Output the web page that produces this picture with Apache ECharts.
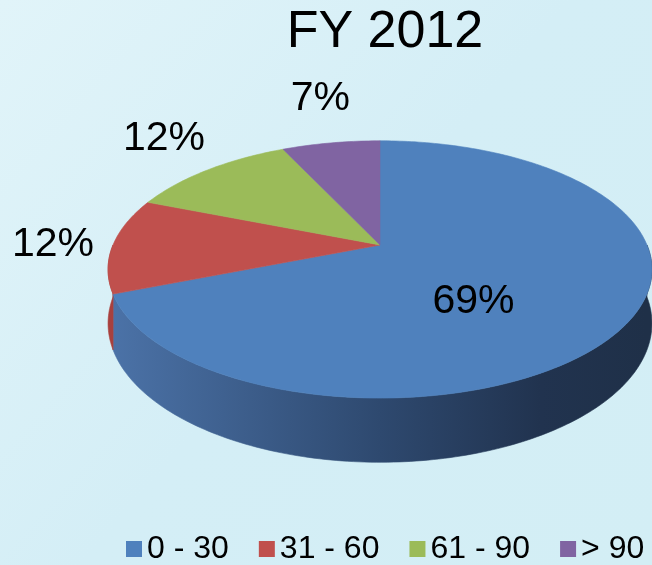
<!DOCTYPE html>
<html>
<head>
<meta charset="utf-8">
<title>FY 2012</title>
<script src="https://cdn.jsdelivr.net/npm/echarts@6/dist/echarts.min.js"></script>
<style>
html, body { margin: 0; padding: 0; }
#main { width: 652px; height: 565px; }
</style>
</head>
<body>
<div id="main"></div>
<script>
// 数据
var titleText = 'FY 2012';
var categories = ['0 - 30', '31 - 60', '61 - 90', '> 90'];
var values = [69, 12, 12, 7];

// 颜色（顶面 / 侧面渐变）
var topColors = ['#4f81bd', '#c0504d', '#9bbb59', '#8064a2'];
var sideColors = [
    ['#4b72a7', '#2e496f', '#21334f', '#1f3048'],
    ['#a8403d', '#7a2e2c', '#552120', '#4a1d1c'],
    ['#7f9a48', '#5c7034', '#414f25', '#384420'],
    ['#69528a', '#4c3b64', '#362a47', '#2f253e']
];

(function () {
    var myChart = echarts.init(document.getElementById('main'));
    var FONT = '"Liberation Sans", Arial, sans-serif';

    // 3D饼图的投影参数
    var CX = 380, CY = 245;   // 圆心
    var R = 267, A = 124;     // 水平/竖直半径
    var P = 0.19;             // 透视
    var D = 52;               // 厚度
    var total = values.reduce(function (a, b) { return a + b; }, 0);

    function proj(theta, k, drop) {
        var u = Math.sin(theta) * k, v = -Math.cos(theta) * k;
        var s = 1 / (1 - P * v);
        return [CX + R * u * s, CY + A * v * s + (drop || 0) * s];
    }
    function arc(a0, a1, drop) {
        var n = Math.max(2, Math.ceil((a1 - a0) / (Math.PI / 180)));
        var pts = [];
        for (var i = 0; i <= n; i++) {
            pts.push(proj(a0 + (a1 - a0) * i / n, 1, drop));
        }
        return pts;
    }
    var ctx = document.createElement('canvas').getContext('2d');
    function textWidth(t, size) {
        ctx.font = size + 'px ' + FONT;
        return ctx.measureText(t).width;
    }

    function renderSlice(params, api) {
        var idx = params.seriesIndex;
        var before = 0;
        for (var j = 0; j < idx; j++) before += values[j];
        var val = api.value(0);
        var a0 = before / total * Math.PI * 2;
        var a1 = (before + val) / total * Math.PI * 2;
        var color = api.visual('color');
        var children = [];

        // 侧面（只画前半部分）
        var s0 = Math.max(a0, Math.PI / 2), s1 = Math.min(a1, Math.PI * 1.5);
        if (s1 > s0) {
            var sc = sideColors[idx];
            var pts = arc(s0, s1, 0).concat(arc(s0, s1, D).reverse());
            var grad = {
                type: 'linear', global: true,
                x: CX - R, y: 0, x2: CX + R, y2: 0,
                colorStops: [
                    { offset: 0, color: sc[0] },
                    { offset: 0.5, color: sc[1] },
                    { offset: 0.8, color: sc[2] },
                    { offset: 1, color: sc[3] }
                ]
            };
            children.push({
                type: 'polygon', z2: 1,
                shape: { points: pts },
                style: { fill: grad, stroke: grad, lineWidth: 0.6 }
            });
        }

        // 顶面
        children.push({
            type: 'polygon', z2: 10,
            shape: { points: [proj(0, 0, 0)].concat(arc(a0, a1, 0)) },
            style: { fill: color, stroke: color, lineWidth: 0.6 }
        });

        // 百分比标签
        var share = val / total;
        var text = Math.round(share * 100) + '%';
        var mid = (a0 + a1) / 2;
        var pos;
        if (share > 0.5) {
            pos = proj(mid, 0.405, D / 2);
        } else {
            var e = proj(mid, 1, 0);
            var hw = textWidth(text, 41) / 2;
            pos = [
                e[0] + Math.sin(mid) * (19 + hw),
                e[1] - Math.cos(mid) * 45
            ];
        }
        children.push({
            type: 'text', z2: 20,
            x: pos[0], y: pos[1],
            style: {
                text: text, fill: '#000',
                fontSize: 41, fontFamily: FONT,
                align: 'center', verticalAlign: 'middle'
            }
        });

        return { type: 'group', children: children };
    }

    var series = categories.map(function (name, i) {
        return {
            name: name,
            type: 'custom',
            coordinateSystem: 'none',
            itemStyle: { color: topColors[i] },
            renderItem: renderSlice,
            data: [[values[i]]]
        };
    });

    var option = {
        backgroundColor: new echarts.graphic.LinearGradient(0, 0, 1, 1, [
            { offset: 0, color: '#e1f4f9' },
            { offset: 0.5, color: '#d4eef6' },
            { offset: 1, color: '#d3eef5' }
        ]),
        animation: false,
        title: {
            text: titleText,
            left: 380,
            top: 2,
            textAlign: 'center',
            textStyle: {
                fontSize: 52,
                fontWeight: 'normal',
                color: '#000',
                fontFamily: FONT
            }
        },
        legend: {
            data: categories,
            left: 121,
            top: 528,
            icon: 'rect',
            itemWidth: 16,
            itemHeight: 16,
            itemGap: 30,
            textStyle: {
                fontSize: 32,
                color: '#000',
                fontFamily: FONT
            }
        },
        series: series
    };
    myChart.setOption(option);
    window.addEventListener('resize', function () {
        myChart.resize();
    });
})();
</script>
</body>
</html>
